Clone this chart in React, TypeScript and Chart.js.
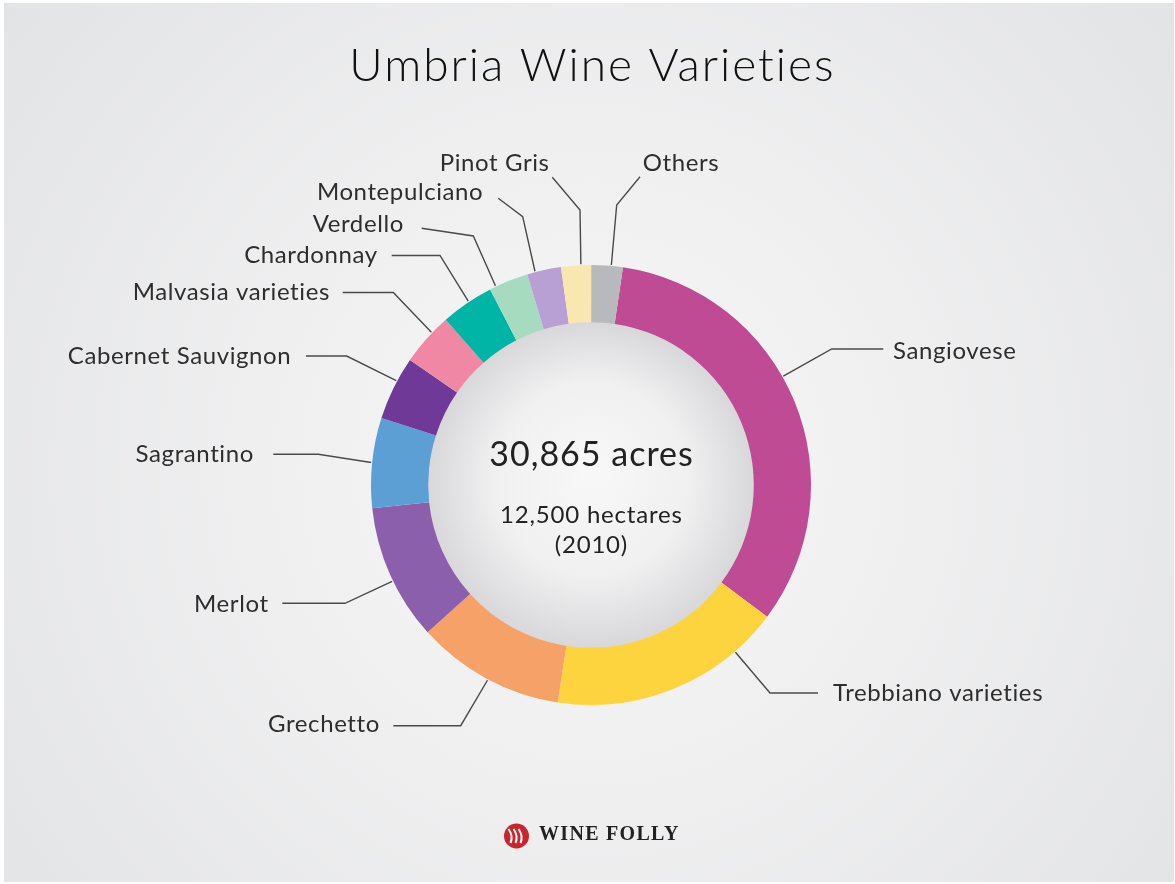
import React, { useEffect, useRef } from "react";
import { Chart, registerables } from "chart.js";

Chart.register(...registerables);

// ---- data ----
const TITLE = "Umbria Wine Varieties";
const VARIETIES = [
  "Sangiovese",
  "Trebbiano varieties",
  "Grechetto",
  "Merlot",
  "Sagrantino",
  "Cabernet Sauvignon",
  "Malvasia varieties",
  "Chardonnay",
  "Verdello",
  "Montepulciano",
  "Pinot Gris",
  "Others",
];
const SHARES = [32.9, 17.2, 10.9, 10.0, 6.6, 4.7, 3.9, 3.9, 2.9, 2.5, 2.2, 2.3];
const COLORS = [
  "#be4b93",
  "#fdd33e",
  "#f5a167",
  "#8b5fab",
  "#5c9fd5",
  "#6f3a97",
  "#f087a3",
  "#00b4a6",
  "#a6dbbf",
  "#b9a0d4",
  "#f9e7b1",
  "#b8b9bc",
];
const CENTER_LINES = ["30,865 acres", "12,500 hectares", "(2010)"];
const BRAND = "WINE FOLLY";

// ---- annotation layout (offsets from chart centre, px) ----
type Leader = { t: number; elbow: [number, number]; end: [number, number]; text: [number, number]; align: CanvasTextAlign };
const LEADERS: Leader[] = [
  { t: 0.44, elbow: [240.7, -136], end: [292.3, -136], text: [302, -134], align: "left" },
  { t: 0.2, elbow: [179, 208], end: [227, 208], text: [242, 208], align: "left" },
  { t: 0.49, elbow: [-130.3, 240.7], end: [-197.7, 240.7], text: [-211.7, 239.5], align: "right" },
  { t: 0.45, elbow: [-246, 118.3], end: [-308.7, 118.3], text: [-323, 119], align: "right" },
  { t: 0.5, elbow: [-272.7, -30.7], end: [-317.7, -30.7], text: [-337.7, -30.5], align: "right" },
  { t: 0.62, elbow: [-244.3, -129], end: [-285, -129], text: [-300.3, -128.5], align: "right" },
  { t: 0.65, elbow: [-197.7, -192.5], end: [-248.3, -192.5], text: [-261.7, -193], align: "right" },
  { t: 0.54, elbow: [-151, -229.5], end: [-199.3, -229.5], text: [-214, -230], align: "right" },
  { t: 0.16, elbow: [-117.7, -249], end: [-169.3, -256.7], text: [-187.7, -261], align: "right" },
  { t: 0.24, elbow: [-68.3, -268.3], end: [-92.7, -286.7], text: [-108.3, -292.5], align: "right" },
  { t: 0.66, elbow: [-11, -275], end: [-38.7, -307.7], text: [-42, -322], align: "right" },
  { t: 0.63, elbow: [25.7, -280], end: [49, -308.3], text: [51.7, -321.7], align: "left" },
];

const FONT = "Lato, 'Open Sans', sans-serif";

function spaced(ctx: any, text: string, x: number, y: number, spacing: number, align: CanvasTextAlign) {
  ctx.letterSpacing = `${spacing}px`;
  ctx.textAlign = "left";
  const w = ctx.measureText(text).width - spacing;
  let sx = x;
  if (align === "right") sx = x - w;
  else if (align === "center") sx = x - w / 2;
  ctx.fillText(text, sx, y);
  ctx.letterSpacing = "0px";
}

const umbriaPlugin = {
  id: "umbriaDecor",
  beforeDraw(chart: any) {
    const { ctx, width, height } = chart;
    ctx.save();
    ctx.fillStyle = "#ffffff";
    ctx.fillRect(0, 0, width, height);
    const cx = 591, cy = 470;
    const g = ctx.createRadialGradient(cx, cy, 0, cx, cy, 760);
    g.addColorStop(0, "#f7f7f8");
    g.addColorStop(0.45, "#efeff0");
    g.addColorStop(1, "#e2e3e5");
    ctx.fillStyle = g;
    ctx.fillRect(4, 3, width - 5, height - 5);
    ctx.restore();
  },
  beforeDatasetsDraw(chart: any) {
    const { ctx } = chart;
    const arc = chart.getDatasetMeta(0).data[0];
    if (!arc) return;
    const { x, y, innerRadius } = arc;
    ctx.save();
    const g = ctx.createRadialGradient(x, y - 15, 0, x, y, innerRadius);
    g.addColorStop(0, "#f8f8f8");
    g.addColorStop(0.6, "#f0f0f1");
    g.addColorStop(1, "#d8d8da");
    ctx.fillStyle = g;
    ctx.beginPath();
    ctx.arc(x, y, innerRadius + 1, 0, Math.PI * 2);
    ctx.fill();
    ctx.restore();
  },
  afterDatasetsDraw(chart: any) {
    const { ctx, width } = chart;
    const meta = chart.getDatasetMeta(0);
    const first = meta.data[0];
    if (!first) return;
    const cx = first.x, cy = first.y;
    ctx.save();

    // leaders + labels
    ctx.strokeStyle = "#4a4a4a";
    ctx.lineWidth = 1.4;
    ctx.fillStyle = "#2e2e2e";
    ctx.font = `400 24px ${FONT}`;
    ctx.textBaseline = "middle";
    meta.data.forEach((el: any, i: number) => {
      const L = LEADERS[i];
      if (!L) return;
      const a = el.startAngle + L.t * (el.endAngle - el.startAngle);
      const r = el.outerRadius + 1;
      ctx.beginPath();
      ctx.moveTo(el.x + Math.cos(a) * r, el.y + Math.sin(a) * r);
      ctx.lineTo(cx + L.elbow[0], cy + L.elbow[1]);
      ctx.lineTo(cx + L.end[0], cy + L.end[1]);
      ctx.stroke();
      spaced(ctx, VARIETIES[i], cx + L.text[0], cy + L.text[1], 0.6, L.align);
    });

    // centre text
    ctx.fillStyle = "#222";
    ctx.font = `400 34px ${FONT}`;
    spaced(ctx, CENTER_LINES[0], cx, cy - 30, 1.0, "center");
    ctx.font = `400 24px ${FONT}`;
    spaced(ctx, CENTER_LINES[1], cx, cy + 30, 0.8, "center");
    spaced(ctx, CENTER_LINES[2], cx, cy + 60, 0.8, "center");

    // title
    ctx.fillStyle = "#111";
    ctx.font = `300 46px ${FONT}`;
    spaced(ctx, TITLE, width / 2 + 4, 66, 2, "center");

    // brand logo
    const lx = 516.5, ly = 836;
    ctx.fillStyle = "#c9252c";
    ctx.beginPath();
    ctx.arc(lx, ly, 12.5, 0, Math.PI * 2);
    ctx.fill();
    ctx.strokeStyle = "#ffffff";
    ctx.lineWidth = 2;
    for (let k = -1; k <= 1; k++) {
      ctx.beginPath();
      ctx.moveTo(lx + k * 5 - 3, ly - 7);
      ctx.quadraticCurveTo(lx + k * 5 + 2, ly, lx + k * 5 - 1, ly + 7);
      ctx.stroke();
    }
    ctx.fillStyle = "#222";
    ctx.font = `700 20px 'Liberation Serif', 'DejaVu Serif', serif`;
    spaced(ctx, BRAND, 539, 835, 1.3, "left");

    ctx.restore();
  },
};

export default function App() {
  const ref = useRef<HTMLCanvasElement | null>(null);
  useEffect(() => {
    if (!ref.current) return;
    const chart = new Chart(ref.current, {
      type: "doughnut",
      data: {
        labels: VARIETIES,
        datasets: [
          {
            data: SHARES,
            backgroundColor: COLORS,
            borderWidth: 0,
            hoverOffset: 0,
          },
        ],
      },
      options: {
        animation: false,
        responsive: true,
        maintainAspectRatio: false,
        rotation: 8.35,
        cutout: "74%",
        layout: { padding: { left: 371, right: 364, top: 265, bottom: 179 } },
        plugins: { legend: { display: false }, tooltip: { enabled: false }, title: { display: false } },
        events: [],
      },
      plugins: [umbriaPlugin],
    });
    return () => chart.destroy();
  }, []);
  return (
    <div style={{ position: "absolute", left: 0, top: 0, width: 1175, height: 884 }}>
      <canvas ref={ref} />
    </div>
  );
}
